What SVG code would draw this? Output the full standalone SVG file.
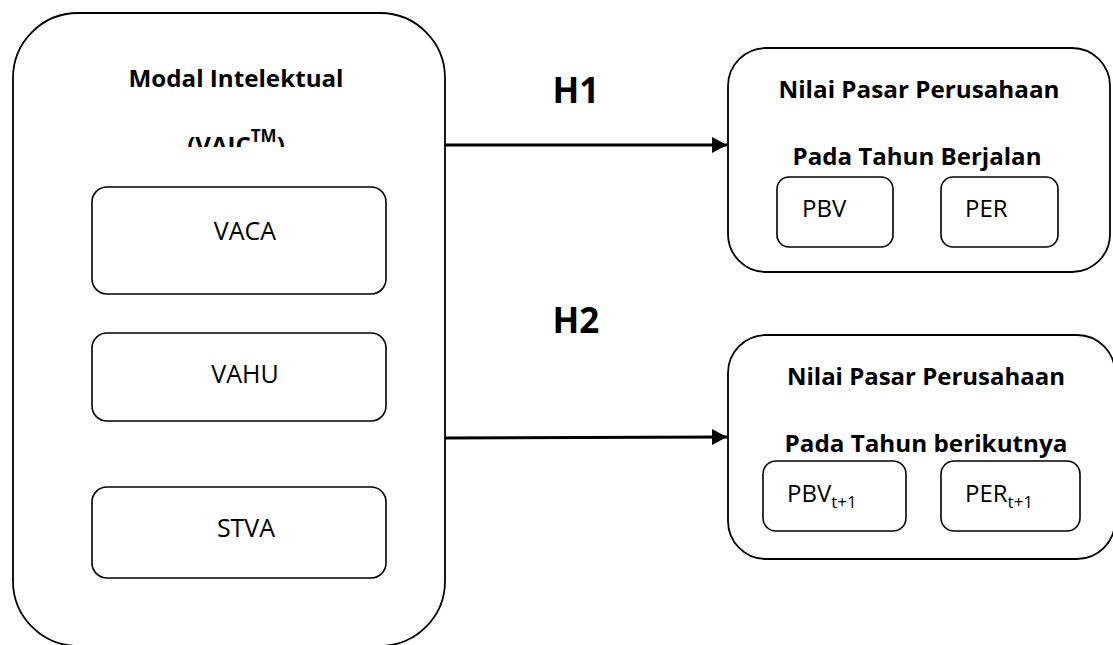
<svg xmlns="http://www.w3.org/2000/svg" width="1113" height="645" viewBox="0 0 1113 645">
<style>
.box{fill:#fff;stroke:#000;stroke-width:1.8}
.ibox{fill:#fff;stroke:#000;stroke-width:1.6}
.t{font-family:"Open Sans","DejaVu Sans",sans-serif;fill:#000}
.b{font-weight:bold}
.conn{stroke:#000;stroke-width:3;fill:none}
</style>
<defs>
<marker id="ah" markerUnits="userSpaceOnUse" markerWidth="16" markerHeight="18" refX="15" refY="8" orient="auto">
<path d="M0,0 L15,8 L0,16 Z" fill="#000"/>
</marker>
<clipPath id="clipv"><rect x="0" y="0" width="460" height="147"/></clipPath>
</defs>
<rect width="1113" height="645" fill="#fff"/>
<g id="modal-intelektual">
<rect class="box" x="13" y="13" width="432" height="633" rx="65" ry="65"/>
<text class="t b" x="236" y="87" font-size="24" text-anchor="middle" textLength="215" lengthAdjust="spacingAndGlyphs">Modal Intelektual</text>
<text class="t b" x="236" y="154" font-size="24" text-anchor="middle" clip-path="url(#clipv)">(VAIC<tspan font-size="17" dy="-12">TM</tspan><tspan dy="12">)</tspan></text>
</g>
<g id="vaca">
<rect class="ibox" x="92" y="187" width="294" height="107" rx="15" ry="15"/>
<text class="t" x="245" y="240" font-size="25" text-anchor="middle">VACA</text>
</g>
<g id="vahu">
<rect class="ibox" x="92" y="333" width="294" height="88" rx="15" ry="15"/>
<text class="t" x="245" y="383" font-size="25" text-anchor="middle">VAHU</text>
</g>
<g id="stva">
<rect class="ibox" x="92" y="487" width="294" height="91" rx="15" ry="15"/>
<text class="t" x="246" y="537" font-size="25" text-anchor="middle">STVA</text>
</g>
<g id="nilai-berjalan">
<rect class="box" x="728" y="48" width="382" height="224" rx="38" ry="38"/>
<text class="t b" x="919" y="98" font-size="24" text-anchor="middle" textLength="281" lengthAdjust="spacingAndGlyphs">Nilai Pasar Perusahaan</text>
<text class="t b" x="917" y="165" font-size="24" text-anchor="middle" textLength="249" lengthAdjust="spacingAndGlyphs">Pada Tahun Berjalan</text>
<rect class="ibox" x="777" y="177" width="116" height="70" rx="12" ry="12"/>
<text class="t" x="802" y="217" font-size="24">PBV</text>
<rect class="ibox" x="941" y="177" width="117" height="70" rx="12" ry="12"/>
<text class="t" x="965" y="217" font-size="24">PER</text>
</g>
<g id="nilai-berikutnya">
<rect class="box" x="728" y="335" width="387" height="224" rx="38" ry="38"/>
<text class="t b" x="926" y="385" font-size="24" text-anchor="middle" textLength="278" lengthAdjust="spacingAndGlyphs">Nilai Pasar Perusahaan</text>
<text class="t b" x="926" y="452" font-size="24" text-anchor="middle" textLength="283" lengthAdjust="spacingAndGlyphs">Pada Tahun berikutnya</text>
<rect class="ibox" x="763" y="461" width="143" height="70" rx="13" ry="13"/>
<text class="t" x="787" y="502" font-size="24">PBV<tspan font-size="17" dy="6">t+1</tspan></text>
<rect class="ibox" x="941" y="461" width="139" height="70" rx="13" ry="13"/>
<text class="t" x="965" y="502" font-size="24">PER<tspan font-size="17" dy="6">t+1</tspan></text>
</g>
<g id="connectors">
<line class="conn" x1="445" y1="145" x2="727" y2="145" marker-end="url(#ah)"/>
<line class="conn" x1="445" y1="438" x2="727" y2="437" marker-end="url(#ah)"/>
<text class="t b" x="576" y="103" font-size="35" text-anchor="middle">H1</text>
<text class="t b" x="576" y="333" font-size="35" text-anchor="middle">H2</text>
</g>
</svg>
